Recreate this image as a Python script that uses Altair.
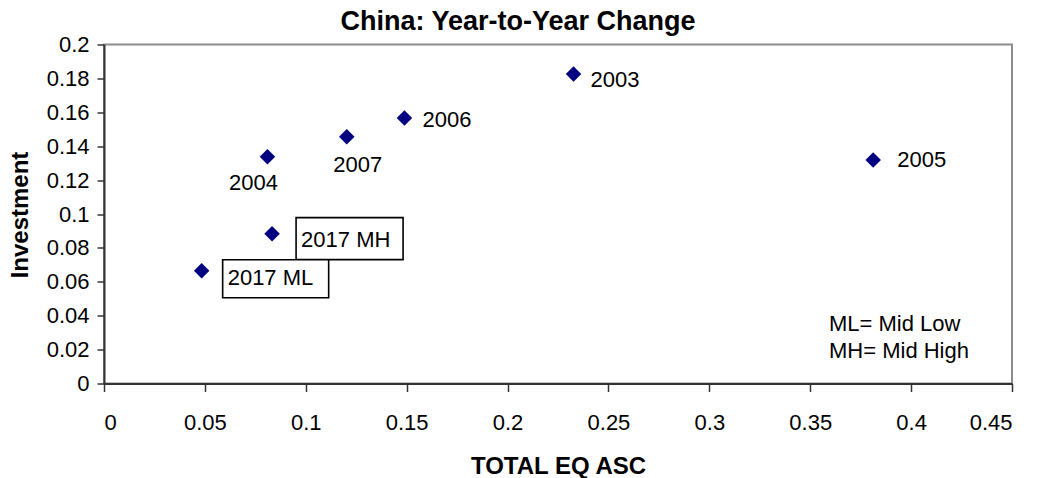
import altair as alt
import pandas as pd

# Year-to-year change, China: total equity ASC vs investment
labels = ["2003", "2004", "2005", "2006", "2007", "2017 MH", "2017 ML"]
total_eq_asc = [0.2327, 0.0810, 0.3812, 0.1489, 0.1203, 0.0833, 0.0484]
investment = [0.1826, 0.1338, 0.1319, 0.1566, 0.1456, 0.0884, 0.0665]

x_ticks = [0, 0.05, 0.1, 0.15, 0.2, 0.25, 0.3, 0.35, 0.4, 0.45]
y_ticks = [0, 0.02, 0.04, 0.06, 0.08, 0.1, 0.12, 0.14, 0.16, 0.18, 0.2]

df = pd.DataFrame({"label": labels, "asc": total_eq_asc, "inv": investment})

FONT = "Liberation Sans"

# label placement relative to each point: (align, dx, dy)
label_style = {
    "2003": ("left", 17, 13),
    "2006": ("left", 18, 9),
    "2005": ("left", 24, 7),
    "2004": ("center", -14, 33),
    "2007": ("center", 11, 35),
    "2017 MH": ("left", 29, 13),
    "2017 ML": ("left", 26, 14),
}
# framed labels: (xOffset, x2Offset, yOffset, y2Offset)
box_style = {
    "2017 MH": (24, 131, -16, 26),
    "2017 ML": (21, 127, -11, 27),
}

x_enc = alt.X(
    "asc:Q",
    title="TOTAL EQ ASC",
    scale=alt.Scale(domain=[0, 0.45], nice=False, zero=True),
    axis=alt.Axis(
        values=x_ticks, format=".2~f", grid=False,
        labelFont=FONT, labelFontSize=22, labelColor="#000",
        labelBaseline="alphabetic", labelPadding=38,
        tickSize=8, tickColor="#333", tickWidth=1.5,
        domainColor="#333", domainWidth=2,
        titleFont=FONT, titleFontSize=24, titleFontWeight="bold", titleColor="#000",
        titleBaseline="alphabetic", titleY=90, zindex=1,
    ),
)
y_enc = alt.Y(
    "inv:Q",
    title="Investment",
    scale=alt.Scale(domain=[0, 0.2], nice=False, zero=True),
    axis=alt.Axis(
        values=y_ticks, format=".2~f", grid=False,
        labelFont=FONT, labelFontSize=22, labelColor="#000",
        labelPadding=8, tickSize=7, tickColor="#333", tickWidth=1.5,
        domainColor="#333", domainWidth=2,
        titleFont=FONT, titleFontSize=24, titleFontWeight="bold", titleColor="#000",
        titleBaseline="alphabetic", titleAngle=-90, titleX=-77, titleY=170,
        titleAlign="center", zindex=1,
    ),
)

base = alt.Chart(df)

layers = []

# white framed boxes behind the 2017 labels
for name, (xo, x2o, yo, y2o) in box_style.items():
    layers.append(
        base.transform_filter(alt.datum.label == name)
        .mark_rect(fill="white", stroke="black", strokeWidth=1.6,
                   xOffset=xo, x2Offset=x2o, yOffset=yo, y2Offset=y2o)
        .encode(x=x_enc, x2="asc:Q", y=y_enc, y2="inv:Q")
    )

points = base.mark_point(shape="diamond", filled=True, size=240,
                         color="#000080", opacity=1).encode(x=x_enc, y=y_enc)
layers.append(points)

for name, (align, dx, dy) in label_style.items():
    layers.append(
        base.transform_filter(alt.datum.label == name)
        .mark_text(font=FONT, fontSize=22, color="#000", align=align,
                   baseline="alphabetic", dx=dx, dy=dy)
        .encode(x=x_enc, y=y_enc, text="label:N")
    )

note = alt.Chart(pd.DataFrame({"t": ["ML= Mid Low\nMH= Mid High"]})).mark_text(
    font=FONT, fontSize=22, color="#000", align="left", baseline="alphabetic",
    lineBreak="\n", lineHeight=27,
).encode(x=alt.value(725), y=alt.value(286), text="t:N")
layers.append(note)

chart = alt.layer(*layers).properties(
    width=908,
    height=339,
    title=alt.TitleParams(
        "China: Year-to-Year Change", font=FONT, fontSize=27, fontWeight="bold",
        color="#000", anchor="middle", dx=-40, dy=11, offset=9,
    ),
    autosize=alt.AutoSizeParams(type="none"),
    padding={"left": 104, "top": 44.5, "right": 28, "bottom": 94.5},
    background="white",
).configure_view(stroke="#8c8c8c", strokeWidth=2)

chart.save("out.html", embed_options={"renderer": "svg", "actions": False})
